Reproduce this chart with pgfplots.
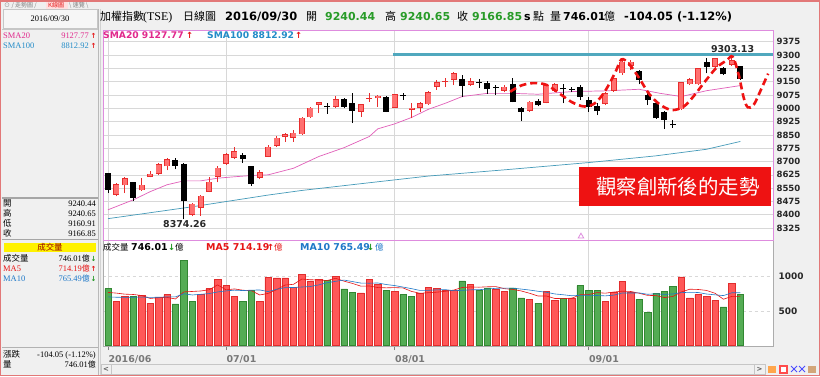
\documentclass[border=0pt]{standalone}
\usepackage{pgfplots}
\usepackage{pgfplotstable}
\pgfplotsset{compat=1.18}
\usepackage{fontspec}
\setmainfont{DejaVu Sans}
\newfontfamily\cjk{Noto Sans CJK TC}
\newfontfamily\srf{Liberation Serif}

\definecolor{appbg}{RGB}{240,240,240}
\definecolor{frame}{RGB}{226,120,120}
\definecolor{pinkbox}{RGB}{222,140,222}
\definecolor{gridc}{RGB}{216,216,216}
\definecolor{upfill}{RGB}{255,112,112}
\definecolor{upedge}{RGB}{232,45,45}
\definecolor{vred}{RGB}{255,88,88}
\definecolor{vrededge}{RGB}{225,45,45}
\definecolor{vgreen}{RGB}{84,172,84}
\definecolor{vgreenedge}{RGB}{50,135,50}
\definecolor{smapink}{RGB}{225,40,140}
\definecolor{smapinkline}{RGB}{225,95,185}
\definecolor{smablue}{RGB}{35,140,200}
\definecolor{smablueline}{RGB}{70,155,185}
\definecolor{tealline}{RGB}{80,168,190}
\definecolor{numgreen}{RGB}{40,155,40}
\definecolor{arrred}{RGB}{230,20,20}
\definecolor{arrgreen}{RGB}{30,150,30}
\definecolor{mablue}{RGB}{30,120,200}
\definecolor{annred}{RGB}{238,18,18}
\definecolor{ticktxt}{RGB}{40,40,40}
\definecolor{datetxt}{RGB}{120,120,120}

% daily candles: index, open, high, low, close (up days: close >= open)
\pgfplotstableread{
i O H L C
1 8512 8578 8503 8574
2 8565 8612 8522 8606
4 8537 8606 8535 8569
5 8612 8644 8610 8631
6 8629 8691 8625 8685
7 8672 8719 8650 8715
10 8400 8469 8391 8462
11 8437 8512 8395 8507
12 8531 8612 8527 8587
13 8612 8672 8582 8666
14 8687 8750 8681 8741
15 8722 8781 8713 8760
18 8606 8653 8600 8640
19 8728 8794 8725 8784
20 8788 8841 8784 8835
21 8837 8863 8812 8856
22 8835 8878 8812 8863
23 8853 8953 8850 8947
24 8949 9009 8947 9004
25 9019 9038 8972 9034
27 9006 9069 9000 9051
30 8981 9025 8953 9023
31 9054 9084 9038 9058
32 9056 9075 9009 9071
34 9004 9081 9002 9079
36 8992 9031 8943 9003
37 9003 9036 8980 9028
38 9022 9096 9019 9090
39 9122 9159 9103 9146
40 9148 9169 9122 9150
41 9159 9202 9131 9197
43 9131 9169 9128 9154
47 9099 9131 9090 9122
50 8985 9040 8981 9037
52 9031 9135 9028 9131
53 9099 9140 9094 9135
59 9024 9090 9018 9084
60 9099 9175 9093 9168
61 9197 9281 9190 9262
62 9240 9272 9215 9262
68 8994 9150 8990 9146
69 9135 9172 9131 9163
70 9135 9228 9131 9225
72 9234 9285 9225 9281
74 9245 9303.13 9240 9270.9
}\upT
% down days: close < open
\pgfplotstableread{
i O H L C
0 8634 8638 8522 8541
3 8582 8586 8479 8494
8 8706 8719 8656 8676
9 8685 8691 8374.26 8476
16 8737 8747 8694 8713
17 8672 8676 8564 8572
26 9010 9032 8968 9007
28 9053 9056 9000 9009
29 9028 9084 8916 8987
33 9062 9069 8978 8981
35 9071 9084 9049 9069
42 9165 9188 9062 9128
44 9146 9163 9116 9144
45 9140 9155 9080 9107
46 9118 9131 9075 9116
48 9137 9168 9033 9034
49 9000 9005 8928 8981
51 9041 9050 9010 9018
54 9109 9135 9028 9107
55 9105 9122 9090 9103
56 9118 9131 9046 9065
57 9046 9065 8981 9005
58 9012 9028 8962 8984
63 9212 9215 9135 9159
64 9075 9084 9018 9046
65 9028 9037 8940 8943
66 8981 8985 8883 8934
67 8908 8934 8891 8905
71 9259 9285 9197 9234
73 9225 9234 9187 9191
75 9240.44 9240.65 9160.91 9166.85
}\downT

\newcommand\fB[1]{\fontsize{#1}{#1}\selectfont\bfseries}
\newcommand\fC[1]{\cjk\fontsize{#1}{#1}\selectfont}
\newcommand\fS[1]{\srf\fontsize{#1}{#1}\selectfont}

\pgfplotsset{
  vbar/.style={draw=none, forget plot, mark=none,
    error bars/.cd, y dir=plus, y explicit, error mark=none,
    error bar style={solid, line cap=butt, #1}},
}

\begin{document}
\begin{tikzpicture}
\begin{scope}[x=1bp,y=-1bp]
  \fill[appbg] (0,0) rectangle (820,376);
  \fill[white!93!gray] (3,9) rectangle (97,28);
  \draw[gray!45] (3,9) rectangle (97,28);
  \draw[gray!55, line width=0.8bp] (98.5,9) -- (98.5,376);
  \draw[gray!35] (100.5,9) -- (100.5,376);
\end{scope}

% ---------------- volume panel ----------------
\begin{axis}[
  at={(103bp,-346bp)}, anchor=south west, scale only axis,
  width=670bp, height=106bp,
  xmin=-0.593, xmax=78.88, ymin=-10, ymax=1533,
  axis background/.style={fill=white},
  axis line style={draw=gray!65, line width=0.8bp},
  xtick={0,14,34,57}, xticklabels={2016/06,07/01,08/01,09/01},
  xtick pos=bottom, ytick pos=right,
  xmajorgrids, ymajorgrids,
  x grid style={gridc, line width=0.6bp},
  y grid style={gridc, line width=0.6bp, dashed},
  ytick={500,1000},
  tick align=outside, major tick length=4bp,
  xtick style={draw=gray, line width=0.6bp},
  ytick style={draw=none},
  yticklabel pos=right,
  yticklabel style={font=\fB{9}, text=ticktxt, xshift=-2bp},
  xticklabel style={anchor=north west, xshift=-3bp, yshift=-1.5bp, font=\fB{9.5}, text=datetxt},
  /pgf/number format/assume math mode=true,
  /pgf/number format/1000 sep={},
  scaled y ticks=false,
]
\addplot[ybar, bar width=0.76, bar shift=0pt, fill=vred, draw=vrededge, line width=0.5bp] coordinates {
(1,641)(2,718)(4,723)(5,612)(6,699)(7,738)(11,738)(12,825)(13,956)(14,874)(15,714)(18,641)(19,990)(20,981)(21,981)(22,845)(23,1029)(24,937)(25,961)(27,1005)(30,762)(31,961)(32,888)(34,786)(37,752)(38,840)(39,825)(40,801)(41,801)(43,888)(46,815)(47,786)(50,665)(52,786)(53,655)(55,689)(59,641)(60,772)(61,932)(62,777)(68,995)(69,689)(70,738)(71,714)(72,655)(74,898)};
\addplot[ybar, bar width=0.76, bar shift=0pt, fill=vgreen, draw=vgreenedge, line width=0.5bp] coordinates {
(0,825)(3,718)(8,602)(9,1238)(10,641)(16,641)(17,796)(26,947)(28,820)(29,772)(33,801)(35,738)(36,714)(42,937)(44,801)(45,835)(48,835)(49,689)(51,616)(54,680)(56,869)(57,801)(58,796)(63,670)(64,485)(65,757)(66,786)(67,859)(73,558)(75,746)};
% MA5
\addplot[color=arrred, line width=0.6bp, mark=none] coordinates {
(0,770)(1,760)(2,745)(3,740)(4,725)(5,682)(6,694)(7,698)(8,675)(9,778)(10,784)(11,791)(12,809)(13,880)(14,807)(15,821)(16,802)(17,796)(18,733)(19,756)(20,810)(21,878)(22,888)(23,965)(24,955)(25,951)(26,944)(27,976)(28,934)(29,901)(30,861)(31,864)(32,841)(33,837)(34,840)(35,835)(36,785)(37,758)(38,766)(39,774)(40,786)(41,804)(42,841)(43,850)(44,846)(45,852)(46,855)(47,825)(48,814)(49,792)(50,758)(51,718)(52,718)(53,682)(54,680)(55,685)(56,736)(57,739)(58,767)(59,759)(60,776)(61,788)(62,784)(63,758)(64,727)(65,724)(66,695)(67,711)(68,776)(69,817)(70,813)(71,799)(72,758)(73,671)(74,713)(75,714)};
% MA10
\addplot[color=mablue, line width=0.6bp, mark=none] coordinates {
(0,705)(1,700)(2,698)(3,700)(4,702)(5,698)(6,700)(7,705)(8,705)(9,751)(10,733)(11,743)(12,753)(13,777)(14,792)(15,803)(16,797)(17,803)(18,806)(19,782)(20,816)(21,840)(22,842)(23,849)(24,856)(25,880)(26,911)(27,932)(28,950)(29,928)(30,906)(31,904)(32,908)(33,885)(34,870)(35,848)(36,825)(37,799)(38,801)(39,807)(40,811)(41,795)(42,800)(43,808)(44,810)(45,819)(46,830)(47,833)(48,832)(49,819)(50,805)(51,787)(52,772)(53,748)(54,736)(55,722)(56,727)(57,729)(58,725)(59,720)(60,731)(61,762)(62,761)(63,763)(64,743)(65,750)(66,742)(67,748)(68,767)(69,772)(70,769)(71,747)(72,735)(73,724)(74,765)(75,765)};
\end{axis}

% ---------------- price panel ----------------
\begin{axis}[
  at={(103bp,-240bp)}, anchor=south west, scale only axis,
  width=670bp, height=210bp,
  xmin=-0.593, xmax=78.88, ymin=8257.7, ymax=9440.9,
  axis background/.style={fill=white},
  axis line style={draw=pinkbox, line width=0.9bp},
  xtick={0,14,34,57}, xticklabels={,,,},
  ytick={8325,8400,8475,8550,8625,8700,8775,8850,8925,9000,9075,9150,9225,9300,9375},
  xmajorgrids, ymajorgrids,
  grid style={gridc, line width=0.6bp},
  major tick length=0pt,
  ytick pos=right, yticklabel pos=right,
  yticklabel style={font=\fB{8.6}, text=ticktxt, xshift=0bp},
  /pgf/number format/assume math mode=true,
  /pgf/number format/1000 sep={},
  scaled y ticks=false,
]
% SMA100
\addplot[color=smablueline, line width=0.7bp, mark=none] coordinates {
(0,8378)(10,8445)(19,8511)(23,8537)(30,8575)(38,8618)(47,8653)(57,8694)(65,8732)(71,8769)(75,8812.92)};
% SMA20
\addplot[color=smapinkline, line width=0.7bp, mark=none] coordinates {
(0,8428)(3,8484)(5,8530)(7,8569)(9,8591)(11,8591)(13,8606)(15,8614)(17,8621)(19,8625)(22,8662)(25,8728)(28,8778)(31,8841)(32,8884)(34,8912)(36,8948)(38,8994)(40,9028)(42,9066)(45,9084)(48,9084)(51,9079)(55,9094)(59,9098)(63,9107)(65.5,9084)(68,9066)(71,9099)(75,9127.77)};
% wicks
\addplot[vbar={draw=upedge, line width=0.8bp}] table[x=i, y=L, y error plus expr={\thisrow{H}-\thisrow{L}}] {\upT};
\addplot[vbar={draw=black, line width=0.8bp}] table[x=i, y=L, y error plus expr={\thisrow{H}-\thisrow{L}}] {\downT};
% bodies
\addplot[vbar={draw=upedge, line width=6bp}] table[x=i, y=O, y error plus expr={max(\thisrow{C}-\thisrow{O},6)}] {\upT};
\addplot[vbar={draw=upfill, line width=4.4bp}] table[x=i, y expr={\thisrow{O}+4}, y error plus expr={max(\thisrow{C}-\thisrow{O}-8,0)}] {\upT};
\addplot[vbar={draw=black, line width=6bp}] table[x=i, y=C, y error plus expr={max(\thisrow{O}-\thisrow{C},6)}] {\downT};
% resistance line at the high
\addplot[color=tealline, line width=2.6bp, mark=none] coordinates {(33.8,9303.13)(78.9,9303.13)};
% hand-drawn dashed path
\addplot[color=annred, line width=2.6bp, mark=none, dash pattern=on 7bp off 4bp, smooth, tension=0.55] coordinates {
(47.7,9093)(49.0,9128)(50.5,9142)(52.0,9132)(53.5,9085)(55.0,9035)(56.5,9010)(57.8,9030)(59.0,9100)(60.2,9205)(60.9,9275)(61.8,9250)(63.0,9170)(64.2,9080)(65.5,9020)(66.9,8990)(68.3,9010)(69.5,9070)(70.8,9150)(72.2,9230)(73.4,9270)(74.1,9290)(74.8,9190)(75.4,9060)(75.9,9005)(76.6,9020)(77.5,9110)(78.3,9195)};
\addplot[only marks, mark=triangle, mark size=3.2bp, color=pinkbox, mark options={solid, line width=0.8bp}] coordinates {(56.1,8278)};
\node[anchor=west, inner sep=0, font=\fB{9.5}, text=ticktxt] at (axis cs:71.5,9334) {9303.13};
\node[anchor=west, inner sep=0, font=\fB{9.5}, text=ticktxt] at (axis cs:6.52,8348) {8374.26};
\end{axis}

\begin{scope}[x=1bp,y=-1bp]
  % annotation box
  \fill[annred] (579,166.5) rectangle (771,206);
  \node[anchor=west, inner sep=0, text=white, font=\fC{20.5}] at (596,186.5) {觀察創新後的走勢};
  % tabs
  \node[anchor=base west, inner sep=0, font=\fC{6}, text=gray] at (4,7.5) {⊙ / 走勢圖 /};
  \fill[red!12] (46,1) rectangle (68,8.5);
  \node[anchor=base west, inner sep=0, font=\fC{6}, text=arrred] at (48,7.5) {K線圖};
  \node[anchor=base west, inner sep=0, font=\fC{6}, text=gray] at (69,7.5) {\textbackslash{} 速覽 \textbackslash};
  % left panel
  \node[inner sep=0, font=\fS{8.5}] at (50,19) {2016/09/30};
  \draw[gray!45] (2,29) -- (98,29);
  \node[anchor=base west, inner sep=0, font=\fS{8.5}, text=smapink] at (3,38) {SMA20};
  \node[anchor=base east, inner sep=0, font=\fS{8.5}, text=smapink] at (89,38) {9127.77};
  \node[anchor=base west, inner sep=0, font=\fB{7}, text=arrred] at (90.5,38) {↑};
  \node[anchor=base west, inner sep=0, font=\fS{8.5}, text=smablue] at (3,48) {SMA100};
  \node[anchor=base east, inner sep=0, font=\fS{8.5}, text=smablue] at (89,48) {8812.92};
  \node[anchor=base west, inner sep=0, font=\fB{7}, text=arrred] at (90.5,48) {↑};
  \draw[gray!70, line width=1.2bp] (2,198) -- (98,198);
  \node[anchor=base west, inner sep=0, font=\fC{8.5}] at (3,206.5) {開};
  \node[anchor=base east, inner sep=0, font=\fS{8.5}] at (96,206.5) {9240.44};
  \node[anchor=base west, inner sep=0, font=\fC{8.5}] at (3,216) {高};
  \node[anchor=base east, inner sep=0, font=\fS{8.5}] at (96,216) {9240.65};
  \node[anchor=base west, inner sep=0, font=\fC{8.5}] at (3,226) {低};
  \node[anchor=base east, inner sep=0, font=\fS{8.5}] at (96,226) {9160.91};
  \node[anchor=base west, inner sep=0, font=\fC{8.5}] at (3,236) {收};
  \node[anchor=base east, inner sep=0, font=\fS{8.5}] at (96,236) {9166.85};
  \draw[gray!70, line width=1.2bp] (2,239.5) -- (98,239.5);
  \fill[yellow] (4,242.5) rectangle (96,252);
  \node[inner sep=0, font=\fC{8.5}, text=red!60!black] at (50,247.3) {成交量};
  \node[anchor=base west, inner sep=0, font=\fC{8.5}] at (3,261) {成交量};
  \node[anchor=base east, inner sep=0, font=\fS{8.5}] at (90,261) {746.01{\fC{8}億}};
  \node[anchor=base west, inner sep=0, font=\fB{7}, text=arrgreen] at (90.5,261) {↓};
  \node[anchor=base west, inner sep=0, font=\fS{8.5}, text=arrred] at (3,271) {MA5};
  \node[anchor=base east, inner sep=0, font=\fS{8.5}, text=arrred] at (90,271) {714.19{\fC{8}億}};
  \node[anchor=base west, inner sep=0, font=\fB{7}, text=arrred] at (90.5,271) {↑};
  \node[anchor=base west, inner sep=0, font=\fS{8.5}, text=mablue] at (3,281) {MA10};
  \node[anchor=base east, inner sep=0, font=\fS{8.5}, text=mablue] at (90,281) {765.49{\fC{8}億}};
  \node[anchor=base west, inner sep=0, font=\fB{7}, text=arrgreen] at (90.5,281) {↓};
  \draw[gray!60, line width=0.8bp] (2,347) -- (98,347);
  \node[anchor=base west, inner sep=0, font=\fC{8.5}] at (3,357) {漲跌};
  \node[anchor=base east, inner sep=0, font=\fS{8.5}] at (96,357) {-104.05 (-1.12\%)};
  \node[anchor=base west, inner sep=0, font=\fC{8.5}] at (3,367.5) {量};
  \node[anchor=base east, inner sep=0, font=\fS{8.5}] at (96,367.5) {746.01{\fC{8}億}};
  % title row
  \node[anchor=base west, inner sep=0, font=\fC{11}] at (100,20.5) {加權指數};
  \node[anchor=base west, inner sep=0, font=\fS{12}] at (143,20.5) {(TSE)};
  \node[anchor=base west, inner sep=0, font=\fC{11}] at (183,20.5) {日線圖};
  \node[anchor=base west, inner sep=0, font=\fB{11.5}] at (225,20.5) {2016/09/30};
  \node[anchor=base west, inner sep=0, font=\fC{11}] at (306,20.5) {開};
  \node[anchor=base west, inner sep=0, font=\fB{11}, text=numgreen] at (325,20.5) {9240.44};
  \node[anchor=base west, inner sep=0, font=\fC{11}] at (385,20.5) {高};
  \node[anchor=base west, inner sep=0, font=\fB{11}, text=numgreen] at (400,20.5) {9240.65};
  \node[anchor=base west, inner sep=0, font=\fC{11}] at (457,20.5) {收};
  \node[anchor=base west, inner sep=0, font=\fB{11}, text=numgreen] at (472,20.5) {9166.85};
  \node[anchor=base west, inner sep=0, font=\fB{11}] at (524,20.5) {s};
  \node[anchor=base west, inner sep=0, font=\fC{11}] at (533,20.5) {點};
  \node[anchor=base west, inner sep=0, font=\fC{11}] at (550,20.5) {量};
  \node[anchor=base west, inner sep=0, font=\fB{11}] at (563,20.5) {746.01};
  \node[anchor=base west, inner sep=0, font=\fC{11}] at (604,20.5) {億};
  \node[anchor=base west, inner sep=0, font=\fB{11.5}] at (624,20.5) {-104.05 (-1.12\%)};
  % SMA row in price panel
  \node[anchor=base west, inner sep=0, font=\fB{9.2}, text=smapink] at (103,38.5) {SMA20 9127.77};
  \node[anchor=base west, inner sep=0, font=\fB{8.5}, text=arrred] at (186,38.5) {↑};
  \node[anchor=base west, inner sep=0, font=\fB{9.2}, text=smablue] at (207,38.5) {SMA100 8812.92};
  \node[anchor=base west, inner sep=0, font=\fB{8.5}, text=arrred] at (295,38.5) {↑};
  % volume title
  \node[anchor=base west, inner sep=0, font=\fC{8.5}] at (103,250.5) {成交量};
  \node[anchor=base west, inner sep=0, font=\fB{9.5}] at (131,250.5) {746.01};
  \node[anchor=base west, inner sep=0, font=\fB{8.5}, text=arrgreen] at (168,250.5) {↓};
  \node[anchor=base west, inner sep=0, font=\fC{8.5}] at (175,250.5) {億};
  \node[anchor=base west, inner sep=0, font=\fB{9.5}, text=arrred] at (206,250.5) {MA5 714.19};
  \node[anchor=base west, inner sep=0, font=\fB{8.5}, text=arrred] at (267,250.5) {↑};
  \node[anchor=base west, inner sep=0, font=\fC{8.5}, text=arrred] at (274,250.5) {億};
  \node[anchor=base west, inner sep=0, font=\fB{9.5}, text=mablue] at (300,250.5) {MA10 765.49};
  \node[anchor=base west, inner sep=0, font=\fB{8.5}, text=arrgreen] at (367,250.5) {↓};
  \node[anchor=base west, inner sep=0, font=\fC{8.5}, text=mablue] at (375,250.5) {億};
  % scroll bar and toolbar
  \fill[gray!12] (101,364) rectangle (765,374);
  \draw[gray!45] (101,364) rectangle (765,374);
  \draw[gray!45] (111,364) -- (111,374);
  \draw[gray!45] (754,364) -- (754,374);
  \node[inner sep=0, font=\fB{7}, text=gray!70!black] at (106,369) {<};
  \node[inner sep=0, font=\fB{7}, text=gray!70!black] at (759.5,369) {>};
  \fill[orange!70] (768,366) rectangle (776,373);
  \fill[red!70] (779,364.5) rectangle (788,374); \fill[white] (781,366.5) rectangle (786,372);
  \draw[blue!70, line width=0.8bp] (791,366) -- (797,372) (791,372) -- (797,366);
  \draw[blue!70, line width=0.8bp] (799,366) -- (805,372) (799,372) -- (805,366);
  \fill[brown!70] (808,366) rectangle (816,373);
  % window frame
  \draw[frame, line width=1.5bp] (0.75,0.75) rectangle (819.25,375.25);
\end{scope}
\end{tikzpicture}
\end{document}
